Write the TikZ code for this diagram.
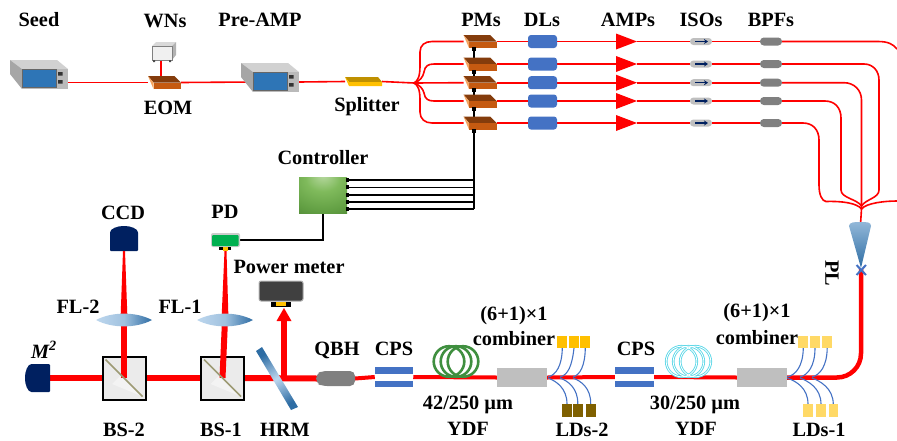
\documentclass[tikz,border=0pt]{standalone}
\usepackage{fontspec}
\setmainfont{Liberation Serif}
\usetikzlibrary{calc,arrows.meta}
\definecolor{ldblue}{HTML}{4472C4}
\definecolor{navy}{HTML}{002060}
\definecolor{modtop}{HTML}{843C0C}
\definecolor{modfront}{HTML}{C55A11}
\definecolor{modside}{HTML}{F4A460}
\definecolor{screenblue}{HTML}{2E75B6}
\definecolor{ldgold}{HTML}{FFC000}
\definecolor{ldbrown}{HTML}{7F6000}
\definecolor{ldpale}{HTML}{FFD966}
\definecolor{lenslight}{HTML}{BDD7EE}
\definecolor{lensdark}{HTML}{2E6DA4}
\definecolor{pdgreen}{HTML}{00B050}
\definecolor{coilgreen}{HTML}{3F8F3F}
\definecolor{coilcyan}{HTML}{5FD8E8}
\pgfdeclareradialshading{ctrlshade}{\pgfpoint{0bp}{28bp}}{
  rgb(0bp)=(0.72,0.85,0.63);
  rgb(18bp)=(0.50,0.73,0.36);
  rgb(40bp)=(0.38,0.62,0.26);
  rgb(62bp)=(0.27,0.47,0.18);
  rgb(100bp)=(0.25,0.44,0.16)}
\pgfdeclarelayer{bg}
\pgfsetlayers{bg,main}
\tikzset{
  x=1pt,y=-1pt,
  lab/.style={font=\fontsize{20.3}{22}\selectfont\bfseries,text=black,inner sep=0pt},
  box/.style={inner sep=0pt,outer sep=0pt,rectangle},
  fib/.style={draw=red,line width=1.6pt},
  fiber/.style={draw=red,line width=4pt},
  beam/.style={draw=red,line width=6pt},
  wire/.style={draw=black,line width=1.4pt},
  pump/.style={draw=ldblue,line width=1.1pt},
  dl/.style={box,fill=ldblue,minimum width=29pt,minimum height=13pt,rounded corners=3pt},
  iso/.style={box,fill=black!25,minimum width=22pt,minimum height=7pt,rounded corners=3.4pt},
  bpf/.style={box,fill=gray,minimum width=22pt,minimum height=8pt,rounded corners=3.8pt},
  amp/.style={box,minimum width=21pt,minimum height=16pt},
  bs/.style={box,draw=black,line width=2pt,fill=black!8,minimum width=43pt,minimum height=43pt},
  comb/.style={box,fill=black!25,minimum width=50pt,minimum height=19pt},
  ldtop/.style={box,minimum width=10pt,minimum height=12pt},
  ldbot/.style={box,minimum width=9.6pt,minimum height=13pt},
  pics/instr/.style={code={
    \fill[black!18] (-35,-19) -- (12,-19) -- (23,-10) -- (-23,-10) -- cycle;
    \fill[black!35] (-35,-19) -- (-23,-10) -- (-23,10) -- (-35,-5) -- cycle;
    \fill[black!27] (-23,-10) rectangle (23,10);
    \filldraw[fill=screenblue,draw=black!60,line width=.6pt] (-22.5,-9.5) rectangle (11,8);
    \fill[black!80] (13,-7) rectangle (17.5,-3.5) (13,1) rectangle (17.5,4.5);
    \node[box,minimum width=46pt,minimum height=20pt] (-c) at (0,0) {};
  }},
  pics/modbox/.style={code={
    \fill[modtop] (-16.5,-6.5) -- (10,-6.5) -- (16.5,0) -- (-11,0) -- cycle;
    \fill[modfront] (-11,0) rectangle (16.5,6.5);
    \fill[modside] (-16.5,-6.5) -- (-11,0) -- (-11,6.5) -- cycle;
    \node[box,minimum width=33pt,minimum height=13pt] (-c) at (0,0) {};
  }},
  pics/det/.style={code={
    \fill[navy,rounded corners=1pt] (-14,12.5) -- (-14,-5) .. controls (-14,-10) and (-6,-12.5) .. (0,-12.5) .. controls (6,-12.5) and (14,-10) .. (14,-5) -- (14,12.5) -- cycle;
    \coordinate (-c) at (0,12.5);
  }},
  pics/lensp/.style={code={
    \path[left color=lenslight,right color=lensdark,middle color=lenslight!80!lensdark] (-28,0) .. controls (-12,-8.5) and (12,-8.5) .. (28,0) .. controls (12,8.5) and (-12,8.5) .. (-28,0) -- cycle;
  }},
  pics/coilp/.style={code={
    \foreach \dx in {-7,0,7} \draw[#1,line width=2.6pt] (\dx,0) circle (15.3);
  }},
}
\begin{document}
\begin{tikzpicture}
\useasboundingbox (0,0) rectangle (897,440);
% top chain
\pic (seed) at (45,79) {instr};
\pic (pre) at (276,82) {instr};
\pic (eom) at (164.5,82.5) {modbox};
\node[box,minimum width=37pt,minimum height=9pt] (split) at (363.5,81.5) {};
\fill[ldgold!75!black] (345,77) -- (378,77) -- (382,82) -- (349,82) -- cycle;
\fill[ldgold] (349,82) rectangle (382,86) (345,77) -- (349,82) -- (349,86) -- cycle;
\node[box,minimum width=24pt,minimum height=17pt] (wn) at (161,52) {};
\fill[black!15] (152,46) -- (156,42) -- (176,42) -- (172,46) -- cycle;
\fill[black!30] (172,46) -- (176,42) -- (176,55) -- (172,60) -- cycle;
\filldraw[fill=black!6,draw=black!50,line width=.6pt] (152,46) rectangle (172,60);
\fill[black!70] (153,60) rectangle (155,62) (169,60) rectangle (171,62);
\coordinate (sp) at (414,83);
% PMs and downstream
\foreach \i/\y in {1/41.5,2/64,3/82.7,4/101,5/123}{
  \pic (pm\i) at (480,\y) {modbox};
  \node[dl] (dl\i) at (542.5,\y) {};
  \node[amp] (amp\i) at (626.5,\y) {};
  \fill[red] (616,\y-8) -- (637,\y) -- (616,\y+8) -- cycle;
  \node[iso] (iso\i) at (701,\y) {};
  \draw[navy,line width=1.5pt,-{Stealth[length=4pt,width=5pt]}] (695,\y) -- (708,\y);
  \node[bpf] (bpf\i) at (771,\y) {};
}
\coordinate (j1) at (897,49);
\coordinate (j2) at (897,201);
\coordinate (out) at (861.5,206);
\coordinate (out2) at (861.5,209);
% controller
\node[box,minimum width=48pt,minimum height=36pt,shading=ctrlshade] (ctrl) at (323,195) {};
\foreach \i/\y in {1/180,2/187.3,3/195,4/202,5/209}{
  \coordinate (c\i) at (347,\y);
  \fill[black] (345.5,\y-2) rectangle (349,\y+2);
}
\coordinate (bus) at (474,209);
% bottom: detectors and splitters
\pic[rotate=90] (m2) at (37.5,378) {det};
\pic (ccd) at (124,238.5) {det};
\node[bs] (bs2) at (124,378) {};
\node[bs] (bs1) at (222.5,378) {};
\foreach \n in {bs2,bs1}{
  \fill[white,opacity=.4] ($(\n.south east)+(-3,-3)$) -- ($(\n.center)+(-12,6)$) -- ($(\n.center)+(-3,-3)$) -- cycle;
}
\node[box,minimum width=29pt,minimum height=14pt,fill=black!20,rounded corners=2pt] (pd) at (225.5,240) {};
\fill[pdgreen,rounded corners=1pt] (212,235) rectangle (238.7,246);
\fill[black] (219,247) rectangle (231,250);
\fill[ldgold] (222.5,247) rectangle (227.5,251);
\node[box,minimum width=44pt,minimum height=20pt,fill=black!75,draw=black!30,line width=1pt,rounded corners=2pt] (pm) at (281,291) {};
\fill[black] (271,302) rectangle (291,307);
\fill[ldgold] (276,302) rectangle (286,306);
\coordinate (l2) at (124,320);
\coordinate (l1) at (225,320);
% vertical beams
\fill[red] ($(l2)+(-3.5,0)$) -- ($(ccd-c)+(-1,0)$) -- ($(ccd-c)+(1,0)$) -- ($(l2)+(3.5,0)$) -- cycle;
\fill[red] ($(l1)+(-3.5,0)$) -- ($(pd.south)+(-1,4)$) -- ($(pd.south)+(1,4)$) -- ($(l1)+(3.5,0)$) -- cycle;
\draw[beam] (l2) -- (bs2.center);
\draw[beam] (l1) -- (bs1.center);
\pic at (l2) {lensp};
\pic at (l1) {lensp};
\foreach \n in {bs2,bs1}{
  \draw[black!35!yellow!40!gray,line width=1.6pt] ($(\n.north west)+(3,3)$) -- ($(\n.south east)+(-3,-3)$);
}
% arrow to power meter
\coordinate (mtap) at (284,378);
\draw[red,line width=6pt] (mtap) -- (284,318);
\fill[red] (276.5,321) -- (284,308) -- (291.5,321) -- cycle;
% QBH, CPS etc.
\node[box,minimum width=38pt,minimum height=15pt] (qbh) at (336,378.5) {};
\fill[gray,rounded corners=5pt] (355,371) -- (322,371) -- (316,374) -- (316,383) -- (322,386) -- (355,386) -- cycle;
\foreach \n/\xx in {cpsa/394,cpsb/634.5}{
  \node[box,minimum width=38.5pt,minimum height=20pt,fill=white] (\n) at (\xx,377) {};
  \fill[ldblue] ($(\n.north west)$) rectangle ($(\n.north east)+(0,6.5)$);
  \fill[ldblue] ($(\n.south west)$) rectangle ($(\n.south east)+(0,-6.5)$);
}
\node[box,minimum width=47pt,minimum height=33pt] (ydfa) at (456,361.5) {};
\node[box,minimum width=47pt,minimum height=33pt] (ydfb) at (688.5,361.5) {};
\node[comb] (coma) at (522,377.5) {};
\node[comb] (comb) at (762,377.5) {};
\foreach \i/\x in {1/562.3,2/574,3/585.3}{\node[ldtop,fill=ldgold] (lta\i) at (\x,342) {};}
\foreach \i/\x in {1/567,2/577.8,3/590.7}{\node[ldbot,fill=ldbrown] (lba\i) at (\x,410.5) {};}
\foreach \i/\x in {1/803.3,2/815,3/827.2}{\node[ldtop,fill=ldpale] (ltb\i) at (\x,342) {};}
\foreach \i/\x in {1/808,2/821,3/833.3}{\node[ldbot,fill=ldpale] (lbb\i) at (\x,410.5) {};}
% PL
\coordinate (tap) at (861,269);
\path[top color=lenslight!70!lensdark,bottom color=lensdark] (849,226) .. controls (849,222) and (855,222) .. (860,222) .. controls (867,222) and (871,222) .. (871,226) -- (861,268) -- cycle;
\node[box,minimum width=22pt,minimum height=19pt] (pl) at (860,232) {};
% connectors on lower layer
\begin{pgfonlayer}{bg}
  \draw[fib] (seed-c.east |- eom-c.west) -- (eom-c.west);
  \draw[fib] (eom-c.east) -- (pre-c.west);
  \draw[fib] (pre-c.east) -- (split.west);
  \draw[fib] (split.east) -- (sp);
  \draw[fib] (wn.south) -- (wn.south |- eom-c.north);
  \draw[fib] (sp) .. controls (418,81) and (420,76) .. (420,66) -- (420,52) .. controls (420,45) and (425,41.5) .. (432,41.5) -- (pm1-c.west);
  \draw[fib] (sp) .. controls (420,81) and (423,77) .. (424,72) .. controls (425,66) and (428,64) .. (434,64) -- (pm2-c.west);
  \draw[fib] (sp) -- (pm3-c.west);
  \draw[fib] (sp) .. controls (420,85) and (423,89) .. (424,93) .. controls (425,99) and (428,101) .. (434,101) -- (pm4-c.west);
  \draw[fib] (sp) .. controls (418,85) and (420,90) .. (420,100) -- (420,112) .. controls (420,119) and (425,123) .. (432,123) -- (pm5-c.west);
  \foreach \i in {1,...,5}{
    \draw[fib] (pm\i-c.east) -- (dl\i.west);
    \draw[fib] (dl\i.east) -- (amp\i.west);
    \draw[fib] (amp\i.east) -- (iso\i.west);
    \draw[fib] (iso\i.east) -- (bpf\i.west);
  }
  \draw[fib] (bpf1.east) -- (878,41.5) .. controls (888,41.5) and (893,44) .. (j1);
  \draw[fib] (bpf2.east) -- (864,64) .. controls (873,64) and (879,71) .. (879,80) -- (879,190) .. controls (879,198) and (866,199) .. (out);
  \draw[fib] (bpf3.east) -- (844,82.7) .. controls (854,82.7) and (861.5,90) .. (861.5,100) -- (out2);
  \draw[fib] (bpf4.east) -- (825,101) .. controls (835,101) and (841,108) .. (841,118) -- (841,190) .. controls (841,198) and (857,199) .. (out);
  \draw[fib] (bpf5.east) -- (803,123) .. controls (813,123) and (819,130) .. (819,140) -- (819,185) .. controls (819,195) and (822,201) .. (826,201.5) .. controls (842,201) and (857,203) .. (out2);
  \draw[fib] (j2) .. controls (885,201) and (866,203) .. (out2);
  \draw[fib] (out2) -- (pl.center);
  % pm control
  \draw[wire] (pm1-c.south -| bus) -- (pm2-c.north -| bus);
  \draw[wire] (pm2-c.south -| bus) -- (pm3-c.north -| bus);
  \draw[wire] (pm3-c.south -| bus) -- (pm4-c.north -| bus);
  \draw[wire] (pm4-c.south -| bus) -- (pm5-c.north -| bus);
  \draw[wire] (pm5-c.south -| bus) -- (bus);
  \foreach \i in {1,...,5}{\draw[wire] (c\i) -- (c\i -| bus);}
  \draw[wire] (pd.east) -| (ctrl.south);
  % beams
  \draw[beam] (m2-c) -- (bs2.west);
  \draw[beam] (bs2.east) -- (bs1.west);
  \draw[beam] (bs1.east) -- (qbh.west);
  \draw[fiber] (qbh.east) -- (cpsa.west);
  \draw[fiber] (cpsa.east) -- (coma.west);
  \draw[fiber] (coma.east) -- (cpsb.west);
  \draw[fiber] (cpsb.east) -- (comb.west);
  \draw[red,line width=4.5pt,rounded corners=24pt] (comb.east) -| (tap);
  % pump fibers
  \draw[pump] (548,377) .. controls (556,375) and (562,366) .. (lta1.south);
  \draw[pump] (560,377) .. controls (568,375) and (572,366) .. (lta2.south);
  \draw[pump] (573,377) .. controls (580,375) and (585,366) .. (lta3.south);
  \draw[pump] (548,378) .. controls (556,381) and (567,388) .. (lba1.north);
  \draw[pump] (560,378) .. controls (568,381) and (578,388) .. (lba2.north);
  \draw[pump] (573,378) .. controls (581,381) and (591,388) .. (lba3.north);
  \draw[pump] (787,377) .. controls (796,375) and (803,366) .. (ltb1.south);
  \draw[pump] (800,377) .. controls (808,375) and (815,366) .. (ltb2.south);
  \draw[pump] (812,377) .. controls (820,375) and (827,366) .. (ltb3.south);
  \draw[pump] (787,378) .. controls (796,381) and (808,388) .. (lbb1.north);
  \draw[pump] (800,378) .. controls (808,381) and (821,388) .. (lbb2.north);
  \draw[pump] (812,378) .. controls (820,381) and (833,388) .. (lbb3.north);
\end{pgfonlayer}
\foreach \i/\y in {1/48,2/70.5,3/89.2,4/107.5,5/129.5}{\fill[black] (472,\y-1) rectangle (476,\y+3);}
% coils over fiber
\pic at (ydfa) {coilp={coilgreen}};
\pic at (ydfb) {coilp={coilcyan}};
\foreach \dx in {-7,0,7}{\draw[white,line width=.8pt] ($(ydfb)+(\dx,0)$) circle (15.3);}
% HRM mirror
\path[top color=lensdark,bottom color=lensdark,middle color=lenslight,shading angle=31] (256,351) -- (262,347) -- (298,407) -- (291,410) -- cycle;
% X mark
\draw[ldblue,line width=2pt] (856.5,265) -- (866,275) (866,265) -- (856.5,275);
% labels
\node[lab] (t1) at (39,20) {Seed};
\node[lab] (t2) at (165,21) {WNs};
\node[lab] (t3) at (260,20) {Pre-AMP};
\node[lab] (t4) at (168,108) {EOM};
\node[lab] (t5) at (367,107) {Splitter};
\node[lab] (t6) at (481,20) {PMs};
\node[lab] (t7) at (542,20) {DLs};
\node[lab] (t8) at (628,20) {AMPs};
\node[lab] (t9) at (701,20) {ISOs};
\node[lab] (t10) at (771,20) {BPFs};
\node[lab] (t11) at (323,158) {Controller};
\node[lab] (t12) at (123,213) {CCD};
\node[lab] (t13) at (225,212) {PD};
\node[lab] (t14) at (289,267) {Power meter};
\node[lab] (t15) at (78,307) {FL-2};
\node[lab] (t16) at (180,307) {FL-1};
\node[lab] (t17) at (44,350) {\itshape M\textsuperscript{2}};
\node[lab] (t18) at (124,430) {BS-2};
\node[lab] (t19) at (221,430) {BS-1};
\node[lab] (t20) at (285,430) {HRM};
\node[lab] (t21) at (337,350) {QBH};
\node[lab] (t22) at (394,349) {CPS};
\node[lab] (t23) at (514,316) {(6+1)×1};
\node[lab] (t24) at (514,339) {combiner};
\node[lab] (t25) at (468,405) {42/250 µm};
\node[lab] (t26) at (468,429) {YDF};
\node[lab] (t27) at (582,430) {LDs-2};
\node[lab] (t28) at (636,349) {CPS};
\node[lab] (t29) at (757,313) {(6+1)×1};
\node[lab] (t30) at (757,338) {combiner};
\node[lab] (t31) at (695,405) {30/250 µm};
\node[lab] (t32) at (696,429) {YDF};
\node[lab] (t33) at (819,430) {LDs-1};
\node[lab,rotate=-90] (t34) at (832,273) {PL};
\end{tikzpicture}
\end{document}
